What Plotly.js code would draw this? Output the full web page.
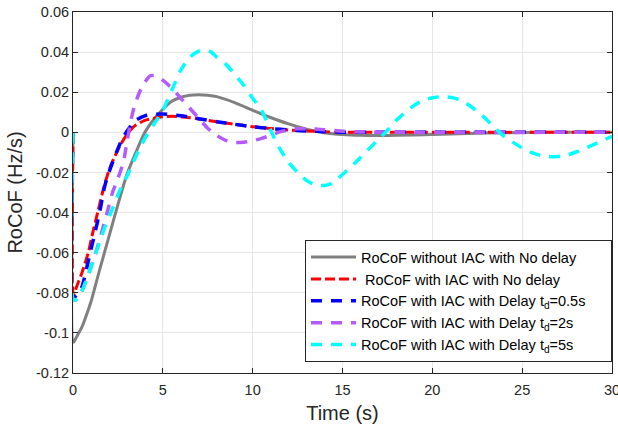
<!DOCTYPE html>
<html>
<head>
<meta charset="utf-8">
<script src="https://cdn.plot.ly/plotly-3.0.1.min.js"></script>
<style>html,body{margin:0;padding:0;background:#fff;}#chart{width:618px;height:430px;}</style>
</head>
<body>
<div id="chart"></div>
<script>
// Series names
const seriesNames = [
  "RoCoF without IAC with No delay",
  " RoCoF with IAC with No delay",
  "RoCoF with IAC with Delay t<sub>d</sub>=0.5s",
  "RoCoF with IAC with Delay t<sub>d</sub>=2s",
  "RoCoF with IAC with Delay t<sub>d</sub>=5s"
];

// Without IAC, no delay (grey)
const tGray = [0,0,0.05,0.2,0.5,0.83,1.0,1.5,2.0,2.5,3.0,3.5,4.0,4.5,5.0,5.5,6.0,6.5,7.0,7.5,8.0,9.0,10.0,11.0,12.0,13.0,14.0,15.0,16.0,17.0,18.0,20.0,22.0,24.0,26.0,30.0];
const vGray = [0,-0.1045,-0.1045,-0.102,-0.097,-0.089,-0.0845,-0.068,-0.052,-0.036,-0.021,-0.010,0.000,0.0065,0.0115,0.0155,0.0175,0.0185,0.0188,0.0185,0.0178,0.0148,0.0110,0.0074,0.0042,0.0016,-0.0002,-0.0011,-0.0015,-0.0016,-0.0015,-0.0011,-0.0006,-0.0002,0,0];

// With IAC, no delay (red)
const tRed = [0,0,0.05,0.2,0.5,0.85,1.1,1.4,1.7,2.0,2.3,2.6,3.0,3.4,4.0,4.5,5.0,5.5,6.0,6.5,7.0,8.0,9.0,10.0,11.0,12.0,13.0,14.0,15.0,17.0,30.0];
const vRed = [0,-0.080,-0.081,-0.077,-0.070,-0.060,-0.050,-0.039,-0.028,-0.019,-0.0125,-0.007,-0.001,0.003,0.006,0.007,0.0078,0.008,0.0078,0.0073,0.0067,0.0053,0.0040,0.0028,0.0019,0.0012,0.0007,0.0003,0.0001,0,0];

// With IAC, delay 0.5 s (blue)
const tBlue = [0,0,0.2,0.5,0.65,0.93,1.2,1.5,1.76,2.0,2.33,2.7,3.0,3.5,4.0,4.5,5.0,5.5,6.0,6.5,7.0,8.0,9.0,10.0,11.0,12.0,13.0,14.0,15.0,17.0,30.0];
const vBlue = [0,-0.083,-0.081,-0.077,-0.072,-0.061,-0.051,-0.039,-0.027,-0.020,-0.012,-0.004,0.0005,0.006,0.0082,0.0090,0.0091,0.0088,0.0083,0.0076,0.0068,0.0053,0.0040,0.0028,0.0019,0.0012,0.0007,0.0003,0.0001,0,0];

// With IAC, delay 2 s (purple)
const tPurple = [0,0,0.15,0.4,0.85,1.2,1.5,1.9,2.2,2.5,2.8,3.0,3.2,3.4,3.7,4.0,4.3,4.6,5.0,5.5,6.0,6.5,7.0,7.5,8.0,8.5,9.0,9.5,10.0,10.5,11.0,11.5,12.0,12.5,13.0,13.5,14.0,15.0,16.0,18.0,30.0];
const vPurple = [0,-0.083,-0.0835,-0.081,-0.071,-0.062,-0.053,-0.040,-0.030,-0.023,-0.015,-0.005,0.005,0.0125,0.020,0.025,0.0282,0.0283,0.026,0.022,0.017,0.012,0.007,0.002,-0.0015,-0.004,-0.005,-0.005,-0.0042,-0.003,-0.0015,0.0002,0.0012,0.0018,0.0018,0.0016,0.0013,0.0006,0.0002,0,0];

// With IAC, delay 5 s (cyan)
const tCyan = [0,0,0.15,0.4,0.85,1.2,1.7,2.2,2.6,3.0,3.5,4.0,4.5,5.0,5.5,6.0,6.5,7.0,7.3,7.7,8.0,8.5,9.0,9.5,10.0,10.5,11.0,11.5,12.0,12.5,13.0,13.5,14.0,14.5,15.0,15.5,16.0,16.5,17.0,17.5,18.0,18.5,19.0,19.5,20.0,20.5,21.0,21.5,22.0,22.5,23.0,23.5,24.0,24.5,25.0,25.5,26.0,26.5,27.0,27.5,28.0,28.5,29.0,29.5,30.0];
const vCyan = [0,-0.083,-0.0835,-0.081,-0.071,-0.062,-0.049,-0.038,-0.029,-0.022,-0.012,-0.003,0.004,0.011,0.021,0.031,0.0375,0.0405,0.041,0.040,0.0375,0.034,0.029,0.0235,0.017,0.011,0.001,-0.008,-0.015,-0.020,-0.024,-0.0263,-0.0265,-0.025,-0.021,-0.017,-0.0125,-0.008,-0.0035,0.001,0.006,0.010,0.0135,0.016,0.0172,0.0178,0.0175,0.0163,0.0138,0.0105,0.0065,0.002,-0.002,-0.005,-0.0078,-0.0100,-0.0115,-0.0121,-0.012,-0.0113,-0.0098,-0.008,-0.006,-0.004,-0.002];

// Axis ticks
const xTicks = [0,5,10,15,20,25,30];
const yTickVals = [0.06,0.04,0.02,0,-0.02,-0.04,-0.06,-0.08,-0.1,-0.12];
const yTickText = ["0.06","0.04","0.02","0","-0.02","-0.04","-0.06","-0.08","-0.1","-0.12"];

const font = "Liberation Sans, Arial, sans-serif";
const pad = "\u00a0\u00a0\u00a0\u00a0\u00a0";
const mk = (t, v, name, color, width, dash) => ({
  x: t, y: v, name: name + pad, type: "scatter", mode: "lines",
  line: {color: color, width: width, dash: dash, shape: "spline", smoothing: 0.6},
  cliponaxis: false
});

const data = [
  mk(tGray, vGray, seriesNames[0], "#808080", 3, "solid"),
  mk(tRed, vRed, seriesNames[1], "#ff0000", 3, "10px,4px"),
  mk(tBlue, vBlue, seriesNames[2], "#0000ff", 3.5, "11px,9px"),
  mk(tPurple, vPurple, seriesNames[3], "#b25bff", 3.5, "11px,9px"),
  mk(tCyan, vCyan, seriesNames[4], "#00ffff", 3.5, "11px,9px")
];

const axisCommon = {
  showline: true, linecolor: "#262626", linewidth: 1, mirror: "ticks",
  ticks: "inside", ticklen: 5, tickcolor: "#262626", tickwidth: 1,
  showgrid: true, gridcolor: "#e6e6e6", gridwidth: 1, zeroline: false,
  tickfont: {family: font, size: 14.5, color: "#262626"},
  ticklabeloverflow: "allow"
};

const layout = {
  width: 618, height: 430,
  margin: {l: 73, r: 6, t: 12, b: 57},
  paper_bgcolor: "#ffffff", plot_bgcolor: "#ffffff",
  showlegend: true,
  xaxis: Object.assign({}, axisCommon, {
    range: [0, 30], tickvals: xTicks, ticktext: xTicks.map(String),
    ticklabelstandoff: 4,
    title: {text: "Time (s)", font: {family: font, size: 20, color: "#262626"}, standoff: 8}
  }),
  yaxis: Object.assign({}, axisCommon, {
    range: [-0.12, 0.06], tickvals: yTickVals, ticktext: yTickText,
    title: {text: "RoCoF (Hz/s)", font: {family: font, size: 20, color: "#262626"}, standoff: 8}
  }),
  legend: {
    x: 1, y: 0.03, xanchor: "right", yanchor: "bottom",
    bgcolor: "#ffffff", bordercolor: "#262626", borderwidth: 1,
    font: {family: font, size: 14.5, color: "#000000"},
    itemwidth: 45, tracegroupgap: 0
  }
};

Plotly.newPlot("chart", data, layout, {displayModeBar: false, staticPlot: true});
</script>
</body>
</html>
